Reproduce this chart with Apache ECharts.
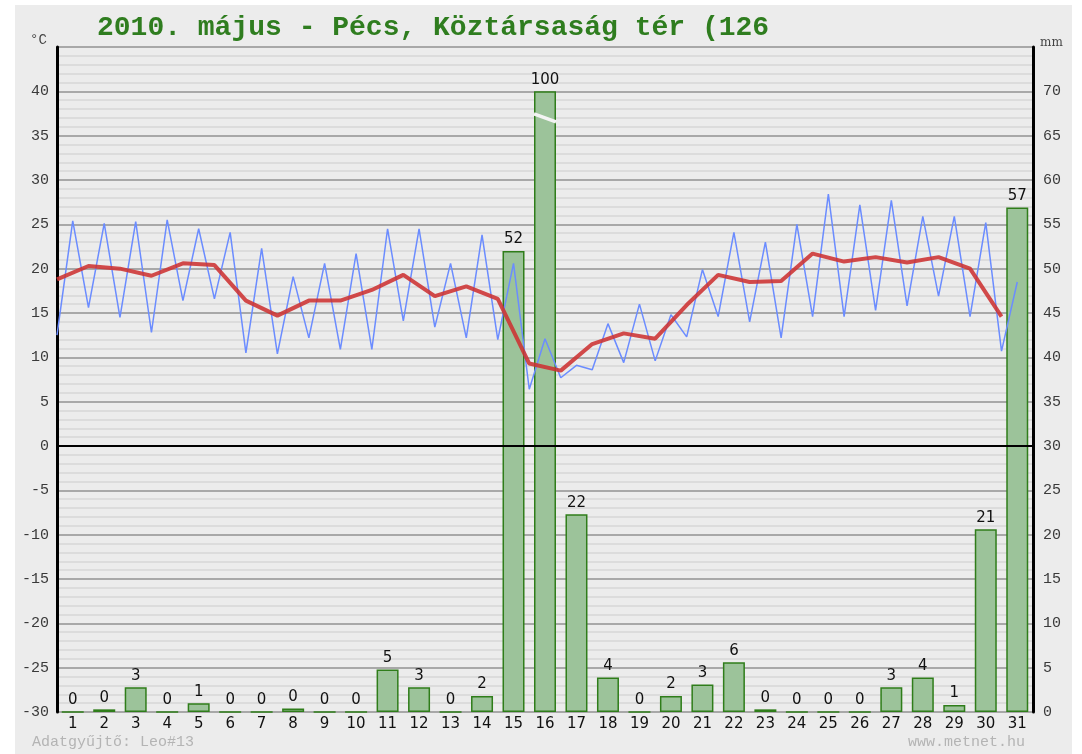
<!DOCTYPE html>
<html lang="hu">
<head>
<meta charset="UTF-8">
<title>2010. május - Pécs</title>
<script src="https://cdn.jsdelivr.net/npm/echarts@6/dist/echarts.min.js"></script>
<style>
  html, body { margin: 0; padding: 0; background: #fff; }
  #main { width: 1082px; height: 754px; }
</style>
</head>
<body>
<div id="main"></div>
<script type="text/javascript">
// napok
var days = ['1','2','3','4','5','6','7','8','9','10','11','12','13','14','15','16',
            '17','18','19','20','21','22','23','24','25','26','27','28','29','30','31'];
// csapadék (mm)
var precip = [0, 0.3, 2.8, 0, 1.0, 0, 0, 0.4, 0, 0, 4.8, 2.8, 0, 1.8, 52, 100,
              22.3, 3.9, 0, 1.8, 3.1, 5.6, 0.3, 0, 0, 0, 2.8, 3.9, 0.8, 20.6, 56.9];
// hőmérséklet: napi minimum (nap eleje) és maximum (nap közepe)
var tLow  = [12.5, 15.6, 14.5, 12.8, 16.4, 16.6, 10.5, 10.4, 12.2, 10.9, 10.9, 14.1,
             13.4, 12.2, 12.0, 6.4, 7.7, 8.6, 9.4, 9.6, 12.3, 14.6, 14.0, 12.2,
             14.6, 14.6, 15.3, 15.8, 16.9, 14.6, 10.7];
var tHigh = [25.4, 25.1, 25.3, 25.5, 24.5, 24.1, 22.3, 19.1, 20.6, 21.7, 24.5, 24.5,
             20.6, 23.8, 20.6, 12.1, 9.1, 13.8, 16.0, 14.8, 19.9, 24.1, 23.0, 25.0,
             28.4, 27.2, 27.7, 25.9, 25.9, 25.2, 18.5];
// napi középhőmérséklet
var tMean = [18.8, 20.3, 20.0, 19.2, 20.6, 20.4, 16.4, 14.7, 16.4, 16.4, 17.6, 19.3,
             16.9, 18.0, 16.6, 9.3, 8.5, 11.5, 12.7, 12.1, 15.9, 19.3, 18.5, 18.6,
             21.7, 20.8, 21.3, 20.7, 21.3, 20.0, 14.6];
var precipCap = 70;

var myChart = echarts.init(document.getElementById('main'));

var blueData = [];
for (var i = 0; i < days.length; i++) {
    blueData.push([i, tLow[i]]);
    blueData.push([i + 0.5, tHigh[i]]);
}
var redData = tMean.map(function (v, i) { return [i, v]; });
var barData = precip.map(function (v) { return Math.min(v, precipCap); });

var monoFont = '"Liberation Mono", "DejaVu Sans Mono", monospace';

option = {
    backgroundColor: '#fff',
    animation: false,
    graphic: [
        { type: 'rect', z: -10, silent: true,
          shape: { x: 15, y: 5, width: 1057, height: 749 },
          style: { fill: '#ececec' } },
        { type: 'text', left: 97, top: 14, silent: true,
          style: { text: '2010. május - Pécs, Köztársaság tér (126', fill: '#2f7d1f',
                   font: 'bold 28px ' + monoFont } },
        { type: 'text', left: 30, top: 33, silent: true,
          style: { text: '°C', fill: '#444', font: '14px ' + monoFont } },
        { type: 'text', left: 1040, top: 37, silent: true,
          style: { text: 'mm', fill: '#444', font: '12px "DejaVu Serif", serif' } },
        { type: 'text', left: 32, top: 735, silent: true,
          style: { text: 'Adatgyűjtő: Leo#13', fill: '#b4b4b4', font: '15px ' + monoFont } },
        { type: 'text', left: 908, top: 735, silent: true,
          style: { text: 'www.metnet.hu', fill: '#b4b4b4', font: '15px ' + monoFont } }
    ],
    grid: { left: 57, right: 49, top: 47, bottom: 42 },
    xAxis: [{
        type: 'category',
        data: days,
        boundaryGap: true,
        axisLine: { show: false },
        axisTick: { show: false },
        axisLabel: { color: '#111', fontSize: 15, fontFamily: '"DejaVu Sans", sans-serif', margin: 5 },
        splitLine: { show: false }
    }, {
        type: 'value',
        min: 0,
        max: 31,
        show: false
    }],
    yAxis: [{
        type: 'value',
        min: -30,
        max: 45,
        interval: 5,
        axisLine: { show: true, lineStyle: { color: '#000', width: 3 } },
        axisTick: { show: false },
        axisLabel: {
            color: '#3a3a3a', fontSize: 15, fontFamily: monoFont, margin: 8,
            formatter: function (v) { return v === 45 ? '' : v; }
        },
        splitLine: { show: true, lineStyle: { color: '#a8a8a8', width: 2 } },
        minorTick: { show: false, splitNumber: 5 },
        minorSplitLine: { show: true, lineStyle: { color: '#dcdcdc', width: 2 } }
    }, {
        type: 'value',
        min: 0,
        max: 75,
        interval: 5,
        position: 'right',
        axisLine: { show: true, lineStyle: { color: '#000', width: 3 } },
        axisTick: { show: false },
        axisLabel: {
            color: '#3a3a3a', fontSize: 15, fontFamily: monoFont, margin: 10,
            formatter: function (v) { return v === 75 ? '' : v; }
        },
        splitLine: { show: false }
    }],
    series: [{
        name: 'csapadék',
        type: 'bar',
        xAxisIndex: 0,
        yAxisIndex: 1,
        data: barData,
        barWidth: 22,
        itemStyle: { color: '#9cc39a', borderColor: '#2f7d1a', borderWidth: 1.5 },
        label: {
            show: true,
            position: 'top',
            distance: 4,
            color: '#111',
            fontSize: 15,
            fontFamily: '"DejaVu Sans", sans-serif',
            formatter: function (p) { return Math.round(precip[p.dataIndex]); }
        },
        z: 1
    }, {
        name: 'hőmérséklet',
        type: 'line',
        xAxisIndex: 1,
        yAxisIndex: 0,
        data: blueData,
        showSymbol: false,
        lineStyle: { color: '#6b8cff', width: 1.5 },
        z: 3
    }, {
        name: 'középhőmérséklet',
        type: 'line',
        xAxisIndex: 1,
        yAxisIndex: 0,
        data: redData,
        showSymbol: false,
        lineStyle: { color: 'rgba(205,50,50,0.88)', width: 4 },
        markLine: {
            silent: true,
            symbol: 'none',
            label: { show: false },
            lineStyle: { color: '#000', width: 2, type: 'solid' },
            data: [{ yAxis: 0 }]
        },
        z: 4
    }]
};

myChart.setOption(option);

// a 70 mm fölé nyúló oszlop törésjele
var capIdx = precip.findIndex(function (v) { return v > precipCap; });
if (capIdx >= 0) {
    var c = myChart.convertToPixel({ xAxisIndex: 0, yAxisIndex: 1 }, [capIdx, precipCap - 3]);
    myChart.setOption({
        graphic: option.graphic.concat([{
            type: 'line', silent: true, z: 10,
            shape: { x1: c[0] - 11, y1: c[1] - 4, x2: c[0] + 11, y2: c[1] + 4 },
            style: { stroke: '#f4f4f4', lineWidth: 3.5 }
        }])
    });
}
</script>
</body>
</html>
